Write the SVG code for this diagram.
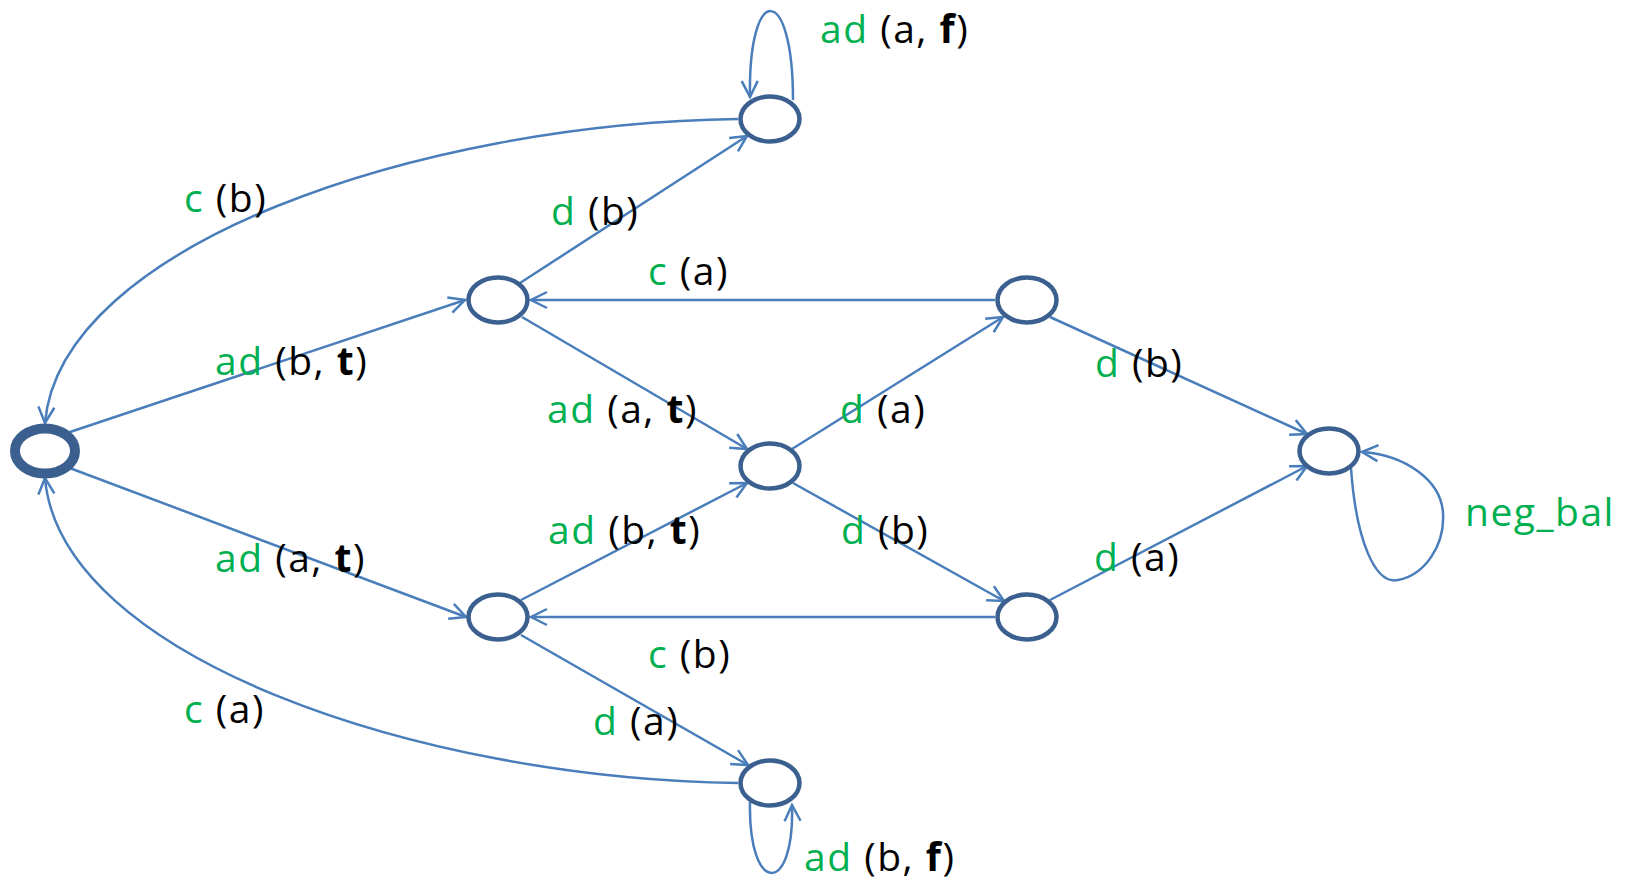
<svg xmlns="http://www.w3.org/2000/svg" width="1627" height="884" viewBox="0 0 1627 884">
<style>
.node{fill:#fff;stroke:#3b6090;stroke-width:4.5}
.start{stroke-width:10}
.e{fill:none;stroke:#4a7ebb;stroke-width:2.5;marker-end:url(#arr)}
text{font-family:"Open Sans","Liberation Sans",sans-serif;font-size:39px;letter-spacing:1.5px;fill:#000}
.g{fill:#00b050}
.b{font-weight:bold}
</style>
<defs>
<marker id="arr" markerUnits="userSpaceOnUse" markerWidth="40" markerHeight="40" viewBox="-20 -20 40 40" refX="0" refY="0" orient="auto">
<path d="M-16,-8 L0,0 L-16,8" fill="none" stroke="#4a7ebb" stroke-width="2.5"/>
</marker>
</defs>
<rect width="1627" height="884" fill="#fff"/>
<g id="connectors">
<path class="e" d="M67,433 L465,300"/>
<path class="e" d="M67,467 L466,617"/>
<path class="e" d="M520,283 L747,136"/>
<path class="e" d="M738,119 C420,123 60,245 45,423"/>
<path class="e" d="M793,100 C793,-18 748,-18 750,97"/>
<path class="e" d="M995,300 L531,300"/>
<path class="e" d="M522,317 L747,449"/>
<path class="e" d="M792,449 L1003,317"/>
<path class="e" d="M1050,317 L1307,434"/>
<path class="e" d="M521,600 L747,483"/>
<path class="e" d="M793,483 L1004,601"/>
<path class="e" d="M995,617 L531,617"/>
<path class="e" d="M1050,600 L1307,466"/>
<path class="e" d="M521,635 L748,765"/>
<path class="e" d="M738,783 C420,779 60,657 45,478"/>
<path class="e" d="M750,802 C748,896 795,896 792,805"/>
<path class="e" d="M1351,468 C1356,540 1375,585 1398,580 C1425,575 1445,545 1443,513 C1441,480 1405,455 1362,452"/>
</g>
<g id="n0"><ellipse class="node start" cx="45" cy="451" rx="30" ry="22.5"/></g>
<g id="n1"><ellipse class="node" cx="498" cy="300" rx="29.5" ry="22.5"/></g>
<g id="n2"><ellipse class="node" cx="770" cy="119" rx="29.5" ry="22.5"/></g>
<g id="n3"><ellipse class="node" cx="1027" cy="300" rx="29.5" ry="22.5"/></g>
<g id="n4"><ellipse class="node" cx="770" cy="466" rx="29.5" ry="22.5"/></g>
<g id="n5"><ellipse class="node" cx="1329" cy="451" rx="29.5" ry="22.5"/></g>
<g id="n6"><ellipse class="node" cx="498" cy="617" rx="29.5" ry="22.5"/></g>
<g id="n7"><ellipse class="node" cx="1027" cy="617" rx="29.5" ry="22.5"/></g>
<g id="n8"><ellipse class="node" cx="770" cy="783" rx="29.5" ry="22.5"/></g>
<g id="labels">
<text x="820" y="43"><tspan class="g">ad</tspan> (a, <tspan class="b">f</tspan>)</text>
<text x="184" y="212"><tspan class="g">c</tspan> (b)</text>
<text x="551" y="225"><tspan class="g">d</tspan> (b)</text>
<text x="215" y="375"><tspan class="g">ad</tspan> (b, <tspan class="b">t</tspan>)</text>
<text x="648" y="285"><tspan class="g">c</tspan> (a)</text>
<text x="547" y="423"><tspan class="g">ad</tspan> (a, <tspan class="b">t</tspan>)</text>
<text x="840" y="423"><tspan class="g">d</tspan> (a)</text>
<text x="548" y="544"><tspan class="g">ad</tspan> (b, <tspan class="b">t</tspan>)</text>
<text x="841" y="544"><tspan class="g">d</tspan> (b)</text>
<text x="1095" y="377"><tspan class="g">d</tspan> (b)</text>
<text x="1094" y="571"><tspan class="g">d</tspan> (a)</text>
<text x="215" y="572"><tspan class="g">ad</tspan> (a, <tspan class="b">t</tspan>)</text>
<text x="648" y="668"><tspan class="g">c</tspan> (b)</text>
<text x="184" y="723"><tspan class="g">c</tspan> (a)</text>
<text x="593" y="735"><tspan class="g">d</tspan> (a)</text>
<text x="804" y="871"><tspan class="g">ad</tspan> (b, <tspan class="b">f</tspan>)</text>
<text x="1465" y="526" class="g">neg_bal</text>
</g>
</svg>
